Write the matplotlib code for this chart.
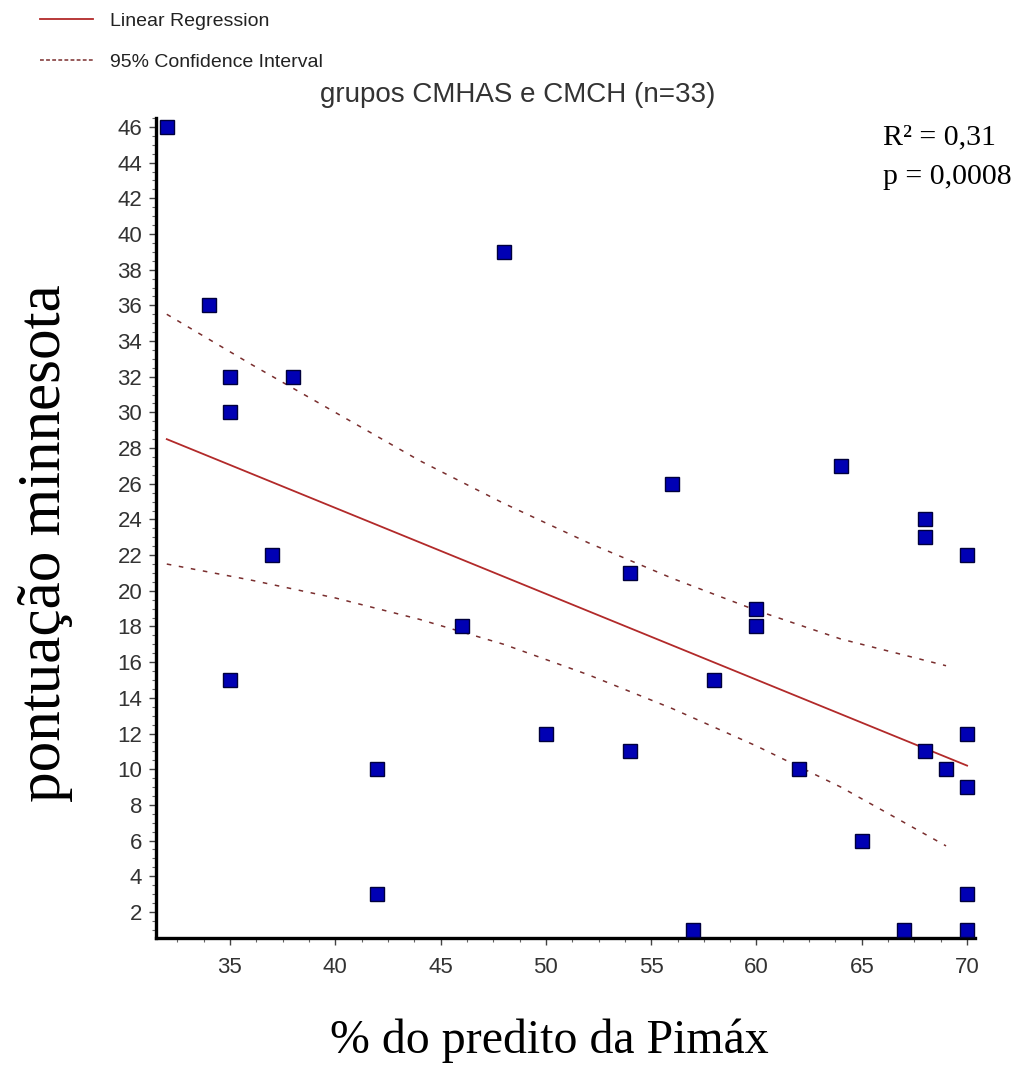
import numpy as np
import matplotlib
matplotlib.use("Agg")
import matplotlib.pyplot as plt
from matplotlib.lines import Line2D
from matplotlib.ticker import MultipleLocator

# pontos
pimax = [32, 34, 35, 35, 35, 37, 38, 42, 42, 46, 48, 50, 54, 54, 56, 57,
         58, 60, 60, 62, 64, 65, 67, 68, 68, 68, 69, 70, 70, 70, 70, 70]
minnesota = [46, 36, 32, 30, 15, 22, 32, 10, 3, 18, 39, 12, 21, 11, 26, 1,
             15, 19, 18, 10, 27, 6, 1, 24, 23, 11, 10, 22, 12, 9, 3, 1]

# reta de regressao (extremos) e faixas do IC 95%
reg_x = [32, 70]
reg_y = [28.5, 10.2]
ci_x = [32, 36, 40, 44, 48, 52, 56, 60, 64, 69]
ci_upper = [35.5, 32.7, 30.0, 27.3, 24.9, 22.7, 20.7, 18.9, 17.3, 15.8]
ci_lower = [21.5, 20.6, 19.6, 18.4, 17.0, 15.3, 13.4, 11.3, 9.0, 5.7]

xticks = [35, 40, 45, 50, 55, 60, 65, 70]
yticks = list(range(2, 47, 2))

sans = ["Liberation Sans", "DejaVu Sans"]
serif = ["Liberation Serif", "DejaVu Serif"]
reg_color = "#b22a2a"
ci_color = "#7a2e2e"

fig = plt.figure(figsize=(10.30, 10.78), dpi=100)
ax = fig.add_axes([0.1515, 0.1299, 0.795, 0.7606])

ax.plot(reg_x, reg_y, color=reg_color, lw=1.3, zorder=2)
ax.plot(ci_x, ci_upper, color=ci_color, lw=1.1, ls=(0, (3, 5)), zorder=2)
ax.plot(ci_x, ci_lower, color=ci_color, lw=1.1, ls=(0, (3, 5)), zorder=2)
ax.plot(pimax, minnesota, "s", ms=10.5, mfc="#0000b4", mec="#00003c",
        mew=1.0, ls="none", zorder=3, clip_on=False)

ax.set_xlim(31.49, 70.37)
ax.set_ylim(0.54, 46.5)
ax.set_xticks(xticks)
ax.set_yticks(yticks)
ax.xaxis.set_minor_locator(MultipleLocator(1.25))
ax.yaxis.set_minor_locator(MultipleLocator(0.5))

for s in ["top", "right"]:
    ax.spines[s].set_visible(False)
for s in ["left", "bottom"]:
    ax.spines[s].set_linewidth(2.4)
ax.tick_params(which="major", length=5, width=1, color="#444444",
               labelcolor="#333333", labelsize=16, pad=5)
ax.tick_params(axis="x", which="major", pad=9)
ax.tick_params(which="minor", length=3, width=0.8, color="#666666")
for lab in ax.get_xticklabels() + ax.get_yticklabels():
    lab.set_family(sans)

fig.text(0.503, 0.912, "grupos CMHAS e CMCH (n=33)", ha="center", va="center",
         fontsize=20, color="#333333", family=sans)

fig.text(0.857, 0.866, "R² = 0,31", fontsize=21.5, family=serif, va="baseline")
fig.text(0.857, 0.829, "p = 0,0008", fontsize=21.5, family=serif, va="baseline")

fig.text(0.044, 0.496, "pontuação minnesota", rotation=90, ha="center",
         va="center", fontsize=44, family=serif)
fig.text(0.533, 0.035, "% do predito da Pimáx", ha="center", va="center",
         fontsize=34.5, family=serif)

handles = [Line2D([], [], color=reg_color, lw=1.3),
           Line2D([], [], color=ci_color, lw=1.1, ls=(0, (2.5, 1.5)))]
fig.legend(handles, ["Linear Regression", "95% Confidence Interval"],
           loc="upper left", bbox_to_anchor=(0.022, 1.005), frameon=False,
           prop={"family": sans, "size": 14}, handlelength=2.7,
           handletextpad=0.9, labelspacing=1.2, labelcolor="#222222")

fig.savefig("out.png", dpi=100)
